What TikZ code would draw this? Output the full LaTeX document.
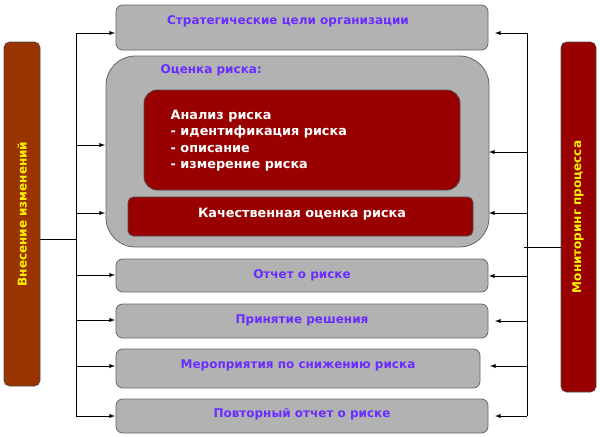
\documentclass[tikz,border=0pt]{standalone}
\usepackage{fontspec}
\setmainfont{DejaVu Sans}
\begin{document}
\begin{tikzpicture}[x=0.75pt,y=-0.75pt,
  gbox/.style={draw=black!60,fill=black!30,rounded corners=5pt,line width=0.6pt},
  rbox/.style={draw=black!70,fill=red!60!black,rounded corners=10pt,line width=0.6pt},
  lbl/.style={font=\bfseries\fontsize{9}{11}\selectfont},
  wl/.style={font=\bfseries\fontsize{9.6}{12.4}\selectfont,text=white},
  arr/.style={-latex,line width=0.5pt},
  ln/.style={line width=0.5pt}]
\useasboundingbox (0,0) rectangle (600,436);
\definecolor{tx}{HTML}{6A2CFF}
\definecolor{brn}{HTML}{993300}
\definecolor{drd}{HTML}{990000}
\tikzset{lbl/.append style={text=tx}}
% side bars
\draw[draw=black!70,fill=brn,rounded corners=4pt] (4,42) rectangle (40,386);
\node[rotate=90,font=\bfseries\fontsize{9}{11}\selectfont,text=yellow] (lb) at (22,214) {Внесение изменений};
\draw[draw=black!70,fill=drd,rounded corners=4pt] (561,42) rectangle (596,392);
\node[rotate=90,font=\bfseries\fontsize{9}{11}\selectfont,text=yellow] (rb) at (578,217) {Мониторинг процесса};
% boxes
\draw[gbox] (116,5) rectangle (488,50);
\node[lbl] (b1) at (288,21) {Стратегические цели организации};
\draw[gbox,rounded corners=22pt] (106,56) rectangle (489,247);
\node[lbl,anchor=west] (b2) at (156,70) {Оценка риска:};
\draw[rbox] (144,90) rectangle (460,190);
\node[wl,anchor=north west,align=left] (b3) at (166,105) {Анализ риска\\- идентификация риска\\- описание\\- измерение риска};
\draw[rbox,rounded corners=4pt] (128,197) rectangle (473,236);
\node[wl] (b4) at (302,214) {Качественная оценка риска};
\draw[gbox] (116,259) rectangle (488,292);
\node[lbl] (b5) at (302,275) {Отчет о риске};
\draw[gbox] (116,304) rectangle (488,338);
\node[lbl] (b6) at (302,320) {Принятие решения};
\draw[gbox] (116,349) rectangle (480,388);
\node[lbl] (b7) at (298,365) {Мероприятия по снижению риска};
\draw[gbox] (116,399) rectangle (488,433);
\node[lbl] (b8) at (302,414) {Повторный отчет о риске};
% left connectors
\coordinate (lt) at (76,33); \coordinate (lbm) at (76,416);
\draw[ln] (lt) -- (lbm);
\draw[ln] (40,239) -- (76,239);
\foreach \y/\e in {33/115,145/105,213/105,275/115,320/115,366/115,416/115}
  \draw[arr] (76,\y) -- (\e,\y);
% right connectors
\draw[ln] (527,33) -- (527,416);
\draw[ln] (524,247) -- (561,247);
\foreach \y/\e in {33/495,152/489,213/489,276/489,321/495,366/490,416/495}
  \draw[arr] (527,\y) -- (\e,\y);
\end{tikzpicture}
\end{document}
